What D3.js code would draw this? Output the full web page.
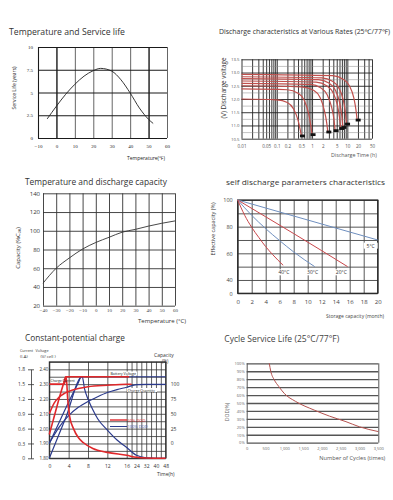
<!DOCTYPE html>
<html><head><meta charset="utf-8">
<script src="https://cdn.jsdelivr.net/npm/d3@7/dist/d3.min.js"></script>
<style>html,body{margin:0;padding:0;background:#fff;} svg{display:block;}</style>
</head><body>
<svg id="chart" width="393" height="500"></svg>
<script>
// ===== Panel 1: Temperature and Service life =====
const lifeTemps = [-5, 0, 5, 10, 15, 20, 24, 30, 35, 40, 45, 50, 52.5];
const lifeYears = [2.1, 3.5, 4.8, 5.9, 6.8, 7.4, 7.65, 7.35, 6.4, 4.95, 3.3, 2.05, 1.6];
const lifeXTicks = [-10, 0, 10, 20, 30, 40, 50, 60];
const lifeYTicks = [0, 2.5, 5, 7.5, 10];

// ===== Panel 2: Discharge characteristics at various rates =====
const rateTimeTicks = [0.01, 0.05, 0.1, 0.2, 0.5, 1, 2, 5, 10, 20, 50];
const rateTimeGrid = [0.01,0.02,0.03,0.04,0.05,0.06,0.07,0.08,0.09,0.1,0.2,0.3,0.4,0.5,0.6,0.7,0.8,0.9,1,2,3,4,5,6,7,8,9,10,20,30,40,50];
const rateVoltTicks = [10.5, 11.0, 11.5, 12.0, 12.5, 13.0, 13.5];
const rateCurve1 = [[0.01,12.0],[0.1,11.97],[0.2,11.87],[0.3,11.62],[0.4,11.2],[0.46,10.85],[0.5,10.6]];
const rateCurve2 = [[0.01,12.38],[0.2,12.35],[0.4,12.22],[0.6,11.95],[0.8,11.45],[0.92,11.0],[1.0,10.65]];
const rateCurve3 = [[0.01,12.5],[0.5,12.46],[1.1,12.33],[1.7,12.05],[2.2,11.6],[2.6,11.1],[2.8,10.75]];
const rateCurve4 = [[0.01,12.59],[0.9,12.55],[1.8,12.42],[2.7,12.15],[3.6,11.68],[4.2,11.2],[4.5,10.8]];
const rateCurve5 = [[0.01,12.68],[1.3,12.64],[2.6,12.5],[3.9,12.25],[5.2,11.78],[6.0,11.3],[6.5,10.88]];
const rateCurve6 = [[0.01,12.77],[1.5,12.73],[3.0,12.6],[4.5,12.35],[6.0,11.88],[7.0,11.35],[7.5,10.92]];
const rateCurve7 = [[0.01,12.84],[1.9,12.8],[3.8,12.67],[5.7,12.42],[7.6,11.98],[8.8,11.5],[9.5,11.05]];
const rateCurve8 = [[0.01,12.93],[3.8,12.88],[7.6,12.75],[11.4,12.5],[15.2,12.05],[17.5,11.6],[19,11.2]];
const rateCurves = [rateCurve1, rateCurve2, rateCurve3, rateCurve4, rateCurve5, rateCurve6, rateCurve7, rateCurve8];

// ===== Panel 3: Temperature and discharge capacity =====
const capTemps = [-40, -30, -20, -10, 0, 10, 20, 30, 40, 50, 60];
const capValues = [44, 60, 71, 80.5, 87.5, 93, 98.5, 101.5, 105, 108, 110.5];
const capYTicks = [20, 40, 60, 80, 100, 120, 140];

// ===== Panel 4: self discharge =====
const selfMonthTicks = [0, 2, 4, 6, 8, 10, 12, 14, 16, 18, 20];
const selfYTicks = [30, 40, 60, 80, 100];
const selfYLabels = ["0", "40", "60", "80", "100"];
const selfGridY = [30, 40, 50, 60, 70, 80, 90, 100];
const self5C = [[0,100],[20,70]];
const self20C = [[0,100],[4,87.4],[8,74.8],[12,62],[15.7,50]];
const self30C = [[0,100],[2,88.5],[4,78.5],[6,69.5],[8,61],[11,50]];
const self40C = [[0,100],[1,88.5],[2,79.5],[3,72],[4,65],[5,59],[6.5,51]];
const selfLabels = ["5°C", "40°C", "30°C", "20°C"];
const selfLabelAt = [[19, 65], [6.6, 45], [10.7, 45], [14.8, 45]];

// ===== Panel 5: Constant-potential charge =====
const chargeTimeTicks = [0, 4, 8, 12, 16, 24, 32, 40, 48];
const chargeCurrentTicks = [0, 0.3, 0.6, 0.9, 1.2, 1.5, 1.8];
const chargeCurrentLabels = ["0", "0.3", "0.6", "0.9", "1.2", "1.5", "1.8"];
const chargeVoltTicks = [1.80, 1.90, 2.00, 2.10, 2.20, 2.30, 2.40];
const chargeCapTicks = [0, 25, 50, 75, 100];
const redVoltage = [[0,1.96],[1,2.08],[2,2.2],[3,2.31],[3.4,2.35],[10,2.35],[18,2.35]];
const redCurrent = [[0,1.5],[3.1,1.5],[3.5,1.65],[3.8,1.2],[4.2,0.85],[5,0.6],[6,0.42],[7,0.32],[9,0.2],[12,0.12],[16,0.06],[24,0.02],[32,0.005],[48,0]];
const redCapacity = [[0,50],[1,68],[2,78],[3,84],[4,88],[6,93],[8,96],[12,98.5],[16,100],[20,100]];
const blueVoltage = [[0,1.9],[2,2.04],[4,2.18],[6,2.31],[6.6,2.35],[20,2.35],[48,2.35]];
const blueCurrent = [[0,0],[3.4,0.82],[6.8,1.65],[7.3,1.4],[8,1.2],[9,0.98],[10,0.8],[12,0.57],[14,0.37],[16,0.22],[24,0.06],[32,0.01],[40,0],[48,0]];
const blueCapacity = [[0,0],[1,14],[2,27],[4,47],[6,61],[8,71],[10,79],[12,86],[14,91],[16,95],[24,99.5],[32,100],[48,100]];

// ===== Panel 6: Cycle service life =====
const cycleCounts = [600, 640, 735, 850, 1000, 1300, 1800, 2200, 2640, 3000, 3500];
const cycleDOD = [100, 90, 79, 71, 62, 52, 41, 33.5, 26.5, 20, 14];
const cycleXTicks = [0, 500, 1000, 1500, 2000, 2500, 3000, 3500];
const cycleYTicks = [0, 10, 20, 30, 40, 50, 60, 70, 80, 90, 100];

// ------------------------------------------------------------------
const svg = d3.select("#chart");
const SANS = "'Open Sans', 'Noto Sans', sans-serif";
const SERIF = "'Liberation Serif', 'DejaVu Serif', serif";

function txt(g, x, y, s, o = {}) {
  const t = g.append("text").attr("x", x).attr("y", y).text(s)
    .attr("font-family", o.family || SANS).attr("font-size", o.size || 6)
    .attr("fill", o.fill || "#333").attr("text-anchor", o.anchor || "start");
  if (o.weight) t.attr("font-weight", o.weight);
  if (o.len) t.attr("textLength", o.len).attr("lengthAdjust", "spacingAndGlyphs");
  if (o.rotate) t.attr("transform", `rotate(-90,${x},${y})`);
  return t;
}
function styleAxis(g, size, fill, family) {
  g.select(".domain").remove();
  g.selectAll(".tick line").remove();
  g.selectAll(".tick text").attr("font-size", size).attr("fill", fill).attr("font-family", family);
}
// grid drawn with d3 axes (long ticks, no labels)
function gridX(g, xs, vals, yBottom, height, color, w) {
  const a = g.append("g").attr("transform", `translate(0,${yBottom})`)
    .call(d3.axisBottom(xs).tickValues(vals).tickSize(-height).tickFormat(""));
  a.select(".domain").remove();
  a.selectAll(".tick line").attr("stroke", color).attr("stroke-width", w);
  return a;
}
function gridY(g, ys, vals, xLeft, width, color, w) {
  const a = g.append("g").attr("transform", `translate(${xLeft},0)`)
    .call(d3.axisLeft(ys).tickValues(vals).tickSize(-width).tickFormat(""));
  a.select(".domain").remove();
  a.selectAll(".tick line").attr("stroke", color).attr("stroke-width", w);
  return a;
}

// ===== Panel 1 =====
{
  const g = svg.append("g");
  const x = d3.scaleLinear().domain([-10, 60]).range([38, 167]);
  const y = d3.scaleLinear().domain([0, 10]).range([138, 47]);
  txt(g, 9, 34.5, "Temperature and Service life", {size: 8.6, fill: "#333", len: 116});
  gridX(g, x, lifeXTicks, y(0), y(0) - y(10), "#555", 0.9);
  gridY(g, y, lifeYTicks, x(-10), x(60) - x(-10), "#1a1a1a", 1.2);
  gridX(g, x, [-10, 0, 50], y(0), y(0) - y(10), "#1a1a1a", 1.1);
  g.append("path").datum(lifeTemps.map((t, i) => [t, lifeYears[i]]))
    .attr("d", d3.line().x(d => x(d[0])).y(d => y(d[1])).curve(d3.curveMonotoneX))
    .attr("fill", "none").attr("stroke", "#222").attr("stroke-width", 0.9);
  const ax = g.append("g").attr("transform", `translate(0,${y(0)})`)
    .call(d3.axisBottom(x).tickValues(lifeXTicks).tickSize(0).tickPadding(6));
  styleAxis(ax, 5, "#222", SERIF);
  const ay = g.append("g").attr("transform", `translate(${x(-10)},0)`)
    .call(d3.axisLeft(y).tickValues(lifeYTicks).tickFormat(d => String(d)).tickSize(0).tickPadding(5));
  styleAxis(ay, 5, "#222", SERIF);
  txt(g, 16, 88, "Service Life (years)", {size: 5, anchor: "middle", rotate: true, fill: "#222"});
  txt(g, 127, 160, "Temperature(℉)", {size: 5, fill: "#222"});
}

// ===== Panel 2 =====
{
  const g = svg.append("g");
  const x = d3.scaleLog().domain([0.01, 50]).range([241.5, 372]);
  const y = d3.scaleLinear().domain([10.5, 13.5]).range([138.7, 59.3]);
  txt(g, 219, 33.5, "Discharge characteristics at Various Rates (25℃/77℉)", {size: 6.3, fill: "#333", len: 171});
  gridX(g, x, rateTimeGrid, y(10.5), y(10.5) - y(13.5), "#222", 0.9);
  gridY(g, y, [10.75, 11.25, 11.75, 12.25, 12.75, 13.25], x(0.01), x(50) - x(0.01), "#888", 0.5);
  gridY(g, y, rateVoltTicks, x(0.01), x(50) - x(0.01), "#222", 0.9);
  const line = d3.line().x(d => x(d[0])).y(d => y(d[1])).curve(d3.curveMonotoneX);
  g.append("g").selectAll("path").data(rateCurves).join("path")
    .attr("d", line).attr("fill", "none").attr("stroke", "#c0504d").attr("stroke-width", 1.2);
  g.append("g").selectAll("rect").data(rateCurves.map(c => c[c.length - 1])).join("rect")
    .attr("x", d => x(d[0]) - 1.5).attr("y", d => y(d[1]) - 1.5)
    .attr("width", 5).attr("height", 2.8).attr("fill", "#111");
  const ax = g.append("g").attr("transform", `translate(0,${y(10.5)})`)
    .call(d3.axisBottom(x).tickValues(rateTimeTicks).tickFormat(d => String(d)).tickSize(0).tickPadding(6));
  styleAxis(ax, 4.5, "#555", SANS);
  const ay = g.append("g").attr("transform", `translate(${x(0.01)},0)`)
    .call(d3.axisLeft(y).tickValues(rateVoltTicks).tickFormat(d3.format(".1f")).tickSize(0).tickPadding(2));
  styleAxis(ay, 4.3, "#555", SANS);
  txt(g, 226, 88, "(V)  Discharge voltage", {size: 6.3, anchor: "middle", rotate: true, fill: "#333"});
  txt(g, 331, 157, "Discharge Time (h)", {size: 5.3, fill: "#555"});
}

// ===== Panel 3 =====
{
  const g = svg.append("g");
  const x = d3.scaleLinear().domain([-40, 60]).range([43, 175]);
  const y = d3.scaleLinear().domain([20, 140]).range([305.7, 193.3]);
  txt(g, 25, 184.5, "Temperature and discharge capacity", {size: 8.6, fill: "#333", len: 142});
  gridX(g, x, capTemps, y(20), y(20) - y(140), "#333", 0.9);
  gridY(g, y, capYTicks, x(-40), x(60) - x(-40), "#333", 0.9);
  g.append("path").datum(capTemps.map((t, i) => [t, capValues[i]]))
    .attr("d", d3.line().x(d => x(d[0])).y(d => y(d[1])).curve(d3.curveMonotoneX))
    .attr("fill", "none").attr("stroke", "#333").attr("stroke-width", 0.9);
  const ax = g.append("g").attr("transform", `translate(0,${y(20)})`)
    .call(d3.axisBottom(x).tickValues(capTemps).tickSize(0).tickPadding(3));
  styleAxis(ax, 5, "#444", SERIF);
  const ay = g.append("g").attr("transform", `translate(${x(-40)},0)`)
    .call(d3.axisLeft(y).tickValues(capYTicks).tickSize(0).tickPadding(3));
  styleAxis(ay, 6, "#333", SANS);
  txt(g, 20, 248, "Capacity (%C₂₀)", {size: 6, anchor: "middle", rotate: true, fill: "#333"});
  txt(g, 138, 322.5, "Temperature (°C)", {size: 6, fill: "#333"});
}

// ===== Panel 4 =====
{
  const g = svg.append("g");
  const x = d3.scaleLinear().domain([0, 20]).range([237.7, 377.7]);
  const y = d3.scaleLinear().domain([30, 100]).range([293.3, 200]);
  txt(g, 226, 185, "self discharge parameters characteristics", {size: 7.6, fill: "#333", len: 159});
  gridX(g, x, selfMonthTicks, y(30), y(30) - y(100), "#444", 0.9);
  gridY(g, y, selfGridY, x(0), x(20) - x(0), "#444", 0.9);
  g.append("rect").attr("x", x(0)).attr("y", y(100)).attr("width", x(20) - x(0)).attr("height", y(30) - y(100))
    .attr("fill", "none").attr("stroke", "#222").attr("stroke-width", 1.2);
  const line = d3.line().x(d => x(d[0])).y(d => y(d[1])).curve(d3.curveMonotoneX);
  const series = [[self5C, "#6f8fbf"], [self20C, "#c9474b"], [self30C, "#6f8fbf"], [self40C, "#c9474b"]];
  g.append("g").selectAll("path").data(series).join("path")
    .attr("d", d => line(d[0])).attr("fill", "none").attr("stroke", d => d[1]).attr("stroke-width", 1);
  selfLabels.forEach((s, i) => {
    const px = x(selfLabelAt[i][0]), py = y(selfLabelAt[i][1]);
    g.append("rect").attr("x", px - 7).attr("y", py - 4).attr("width", 14).attr("height", 6).attr("fill", "#fff");
    txt(g, px, py + 1, s, {size: 5, anchor: "middle", fill: "#333"});
  });
  const ax = g.append("g").attr("transform", `translate(0,${y(30)})`)
    .call(d3.axisBottom(x).tickValues(selfMonthTicks).tickSize(0).tickPadding(6));
  styleAxis(ax, 6, "#444", SANS);
  const ay = g.append("g").attr("transform", `translate(${x(0)},0)`)
    .call(d3.axisLeft(y).tickValues(selfYTicks).tickFormat((d, i) => selfYLabels[i]).tickSize(0).tickPadding(5));
  styleAxis(ay, 5.5, "#444", SANS);
  txt(g, 214.5, 229, "Effective capacity (%)", {size: 5.5, anchor: "middle", rotate: true, fill: "#333"});
  txt(g, 326, 317.5, "Storage capacity (month)", {size: 5, fill: "#444"});
}

// ===== Panel 5 =====
{
  const g = svg.append("g");
  const x = d3.scaleLinear().domain([0, 16, 48]).range([49.3, 126.7, 165.7]);
  const yv = d3.scaleLinear().domain([1.8, 2.45]).range([458.3, 361.9]);
  const yi = d3.scaleLinear().domain([0, 1.8]).range([458.3, 369.3]);
  const yc = d3.scaleLinear().domain([0, 100]).range([443.3, 384.3]);
  txt(g, 25, 341, "Constant-potential charge", {size: 9.2, fill: "#333", len: 100});
  gridX(g, x, d3.range(0, 49, 4), yv(1.8), yv(1.8) - yv(2.45), "#333", 0.8);
  gridY(g, yv, d3.range(1.8, 2.451, 0.05), x(0), x(48) - x(0), "#333", 0.8);
  g.append("rect").attr("x", x(0)).attr("y", yv(2.45)).attr("width", x(48) - x(0)).attr("height", yv(1.8) - yv(2.45))
    .attr("fill", "none").attr("stroke", "#222").attr("stroke-width", 1);
  const lv = d3.line().x(d => x(d[0])).y(d => yv(d[1])).curve(d3.curveMonotoneX);
  const li = d3.line().x(d => x(d[0])).y(d => yi(d[1])).curve(d3.curveMonotoneX);
  const lc = d3.line().x(d => x(d[0])).y(d => yc(d[1])).curve(d3.curveMonotoneX);
  const BLUE = "#2b3a8c", RED = "#e0282b";
  const draw = (d, gen, c, w) => g.append("path").attr("d", gen(d)).attr("fill", "none").attr("stroke", c).attr("stroke-width", w);
  draw(blueVoltage, lv, BLUE, 1.2);
  draw(blueCurrent, li, BLUE, 1.2);
  draw(blueCapacity, lc, BLUE, 1.2);
  draw(redCapacity, lc, RED, 1.5);
  draw(redVoltage, lv, RED, 1.6);
  draw(redCurrent, li, RED, 1.6);
  // legend
  g.append("line").attr("x1", 110).attr("x2", 127).attr("y1", 420).attr("y2", 420).attr("stroke", RED).attr("stroke-width", 1.4);
  txt(g, 127.5, 421.5, "50% DOD", {size: 4, fill: RED});
  g.append("line").attr("x1", 110).attr("x2", 127).attr("y1", 426.5).attr("y2", 426.5).attr("stroke", BLUE).attr("stroke-width", 1);
  txt(g, 127.5, 428, "100% DOD", {size: 4, fill: "#4a5ab0"});
  g.append("rect").attr("x", 110).attr("y", 371.5).attr("width", 27).attr("height", 4).attr("fill", "#fff");
  txt(g, 110.5, 375, "Battery Voltage", {size: 3.6, fill: "#222"});
  txt(g, 50.5, 382, "Charge Current", {size: 3.4, fill: "#222"});
  g.append("rect").attr("x", 127).attr("y", 388).attr("width", 30).attr("height", 4).attr("fill", "#fff");
  txt(g, 127.5, 391.5, "Charge Quantity", {size: 3.6, fill: "#222"});
  // axes
  const ax = g.append("g").attr("transform", `translate(0,${yv(1.8)})`)
    .call(d3.axisBottom(x).tickValues(chargeTimeTicks).tickSize(0).tickPadding(6));
  styleAxis(ax, 5, "#333", SANS);
  const av = g.append("g").attr("transform", `translate(${x(0)},0)`)
    .call(d3.axisLeft(yv).tickValues(chargeVoltTicks).tickFormat(d3.format(".2f")).tickSize(0).tickPadding(1));
  styleAxis(av, 4.5, "#333", SANS);
  const ai = g.append("g").attr("transform", "translate(31,0)")
    .call(d3.axisLeft(yi).tickValues(chargeCurrentTicks).tickFormat((d, i) => chargeCurrentLabels[i]).tickSizeInner(3).tickSizeOuter(0).tickPadding(2));
  ai.select(".domain").attr("stroke", "#333").attr("stroke-width", 0.8);
  ai.selectAll(".tick line").attr("x2", 3).attr("x1", -3).attr("stroke", "#333").attr("stroke-width", 0.8);
  ai.selectAll(".tick text").attr("font-size", 5).attr("fill", "#333").attr("font-family", SANS).attr("x", -6);
  const ac = g.append("g").attr("transform", `translate(${x(48)},0)`)
    .call(d3.axisRight(yc).tickValues(chargeCapTicks).tickSize(0).tickPadding(5));
  styleAxis(ac, 5, "#333", SANS);
  txt(g, 20, 352, "Current", {size: 4.2, fill: "#333", len: 13});
  txt(g, 35.5, 352, "Voltage", {size: 4.2, fill: "#333", len: 13});
  txt(g, 20, 357.5, "(I-A)", {size: 4.2, fill: "#333"});
  txt(g, 40.5, 358, "(V/ cell )", {size: 4.2, fill: "#333"});
  txt(g, 154, 357, "Capacity", {size: 5, fill: "#333"});
  txt(g, 162, 363, "(%)", {size: 4.5, fill: "#333"});
  txt(g, 157, 475.5, "Time(h)", {size: 5, fill: "#333"});
}

// ===== Panel 6 =====
{
  const g = svg.append("g");
  const x = d3.scaleLinear().domain([0, 3500]).range([246.7, 378.3]);
  const y = d3.scaleLinear().domain([0, 100]).range([442.7, 363.3]);
  txt(g, 224.3, 342, "Cycle Service Life (25°C/77°F)", {size: 9.2, fill: "#444", len: 115});
  gridY(g, y, cycleYTicks, x(0), x(3500) - x(0), "#555", 1.3);
  gridX(g, x, [0, 3500], y(0), y(0) - y(100), "#555", 1);
  g.append("path").datum(cycleCounts.map((c, i) => [c, cycleDOD[i]]))
    .attr("d", d3.line().x(d => x(d[0])).y(d => y(d[1])).curve(d3.curveMonotoneX))
    .attr("fill", "none").attr("stroke", "#b5524f").attr("stroke-width", 1);
  const ax = g.append("g").attr("transform", `translate(0,${y(0)})`)
    .call(d3.axisBottom(x).tickValues(cycleXTicks).tickSize(0).tickPadding(4));
  styleAxis(ax, 4, "#666", SANS);
  const ay = g.append("g").attr("transform", `translate(${x(0)},0)`)
    .call(d3.axisLeft(y).tickValues(cycleYTicks).tickFormat(d => d + "%").tickSize(0).tickPadding(2));
  styleAxis(ay, 4, "#666", SANS);
  txt(g, 228.5, 412, "DOD(%)", {size: 5, anchor: "middle", rotate: true, fill: "#666"});
  txt(g, 319.3, 460, "Number of Cycles (times)", {size: 5.3, fill: "#555", len: 66});
}
</script>
</body></html>
